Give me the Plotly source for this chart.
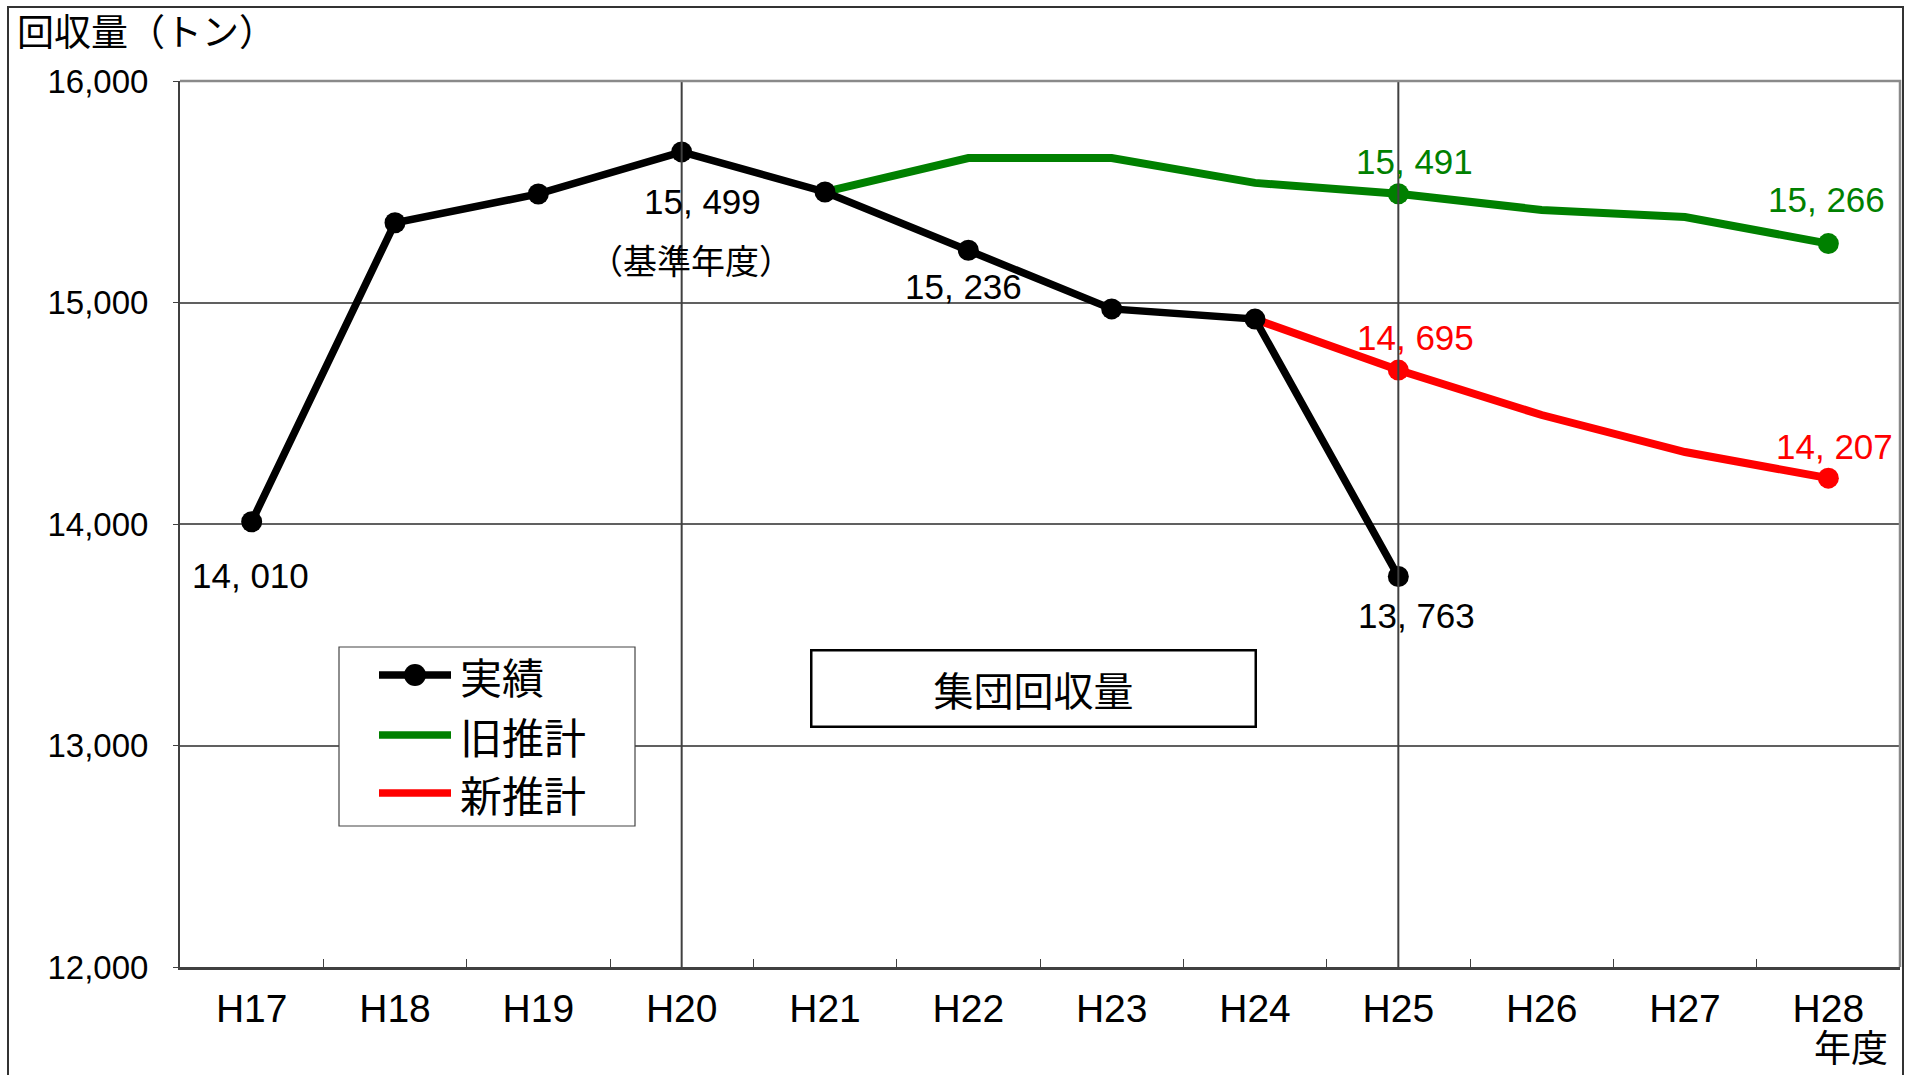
import plotly.graph_objects as go

# Fiscal years on the category axis
years = ["H17", "H18", "H19", "H20", "H21", "H22", "H23", "H24", "H25", "H26", "H27", "H28"]

# 実績 (actual collection, tons)
actual_years = years[:9]
actual = [14010, 15360, 15490, 15680, 15499, 15236, 14971, 14925, 13763]

# 旧推計 (previous projection)
old_years = years[4:]
old_est = [15499, 15652, 15652, 15540, 15491, 15418, 15386, 15266]

# 新推計 (revised projection)
new_years = years[7:]
new_est = [14925, 14695, 14492, 14325, 14207]

# Years that get a marker on the projection lines
marked_years = ["H25", "H28"]

y_ticks = [12000, 13000, 14000, 15000, 16000]

BLACK, GREEN, RED = "#000000", "#008000", "#ff0000"
W, H = 1914, 1075
L, R, T, B = 180, 14, 81, 108
PW, PH = W - L - R, H - T - B

LABEL_FONT = "Liberation Sans, Arial, sans-serif"
CJK_FONT = "Noto Sans CJK JP, sans-serif"
TICK_FONT = "Liberation Sans, Arial, sans-serif"


def px_x(px):
    return (px - L) / PW


def px_y(py):
    return (H - B - py) / PH


def fmt(v):
    return f"{v:,}".replace(",", ", ")


fig = go.Figure()

fig.add_trace(go.Scatter(
    x=old_years, y=old_est, mode="lines", name="旧推計",
    line=dict(color=GREEN, width=8),
))
fig.add_trace(go.Scatter(
    x=marked_years, y=[old_est[old_years.index(k)] for k in marked_years],
    mode="markers", marker=dict(color=GREEN, size=21), name="旧推計",
))
fig.add_trace(go.Scatter(
    x=new_years, y=new_est, mode="lines", name="新推計",
    line=dict(color=RED, width=8),
))
fig.add_trace(go.Scatter(
    x=marked_years, y=[new_est[new_years.index(k)] for k in marked_years],
    mode="markers", marker=dict(color=RED, size=21), name="新推計",
))
fig.add_trace(go.Scatter(
    x=actual_years, y=actual, mode="lines+markers", name="実績",
    line=dict(color=BLACK, width=7.5), marker=dict(color=BLACK, size=21),
))

# Value labels: (years, values, year, colour, xshift, yshift)
labels = [
    (actual_years, actual, "H17", BLACK, -1, -54),
    (actual_years, actual, "H22", BLACK, -5, -36),
    (actual_years, actual, "H25", BLACK, 18, -39),
    (old_years, old_est, "H25", GREEN, 16, 32),
    (old_years, old_est, "H28", GREEN, -2, 44),
    (new_years, new_est, "H25", RED, 17, 33),
    (new_years, new_est, "H28", RED, 6, 32),
]
for xs, vs, yr, col, dx, dy in labels:
    v = vs[xs.index(yr)]
    fig.add_annotation(
        x=yr, y=v, text=fmt(v), showarrow=False, xshift=dx, yshift=dy,
        font=dict(family=LABEL_FONT, size=35, color=col),
    )

# Base-year value, written beside the H20 gridline
base = actual[actual_years.index("H21")]
fig.add_annotation(
    x="H20", y=base, text=fmt(base), showarrow=False, xshift=21, yshift=-10,
    font=dict(family=LABEL_FONT, size=35, color=BLACK),
)
fig.add_annotation(
    x="H20", y=base, text="（基準年度）", showarrow=False, xshift=9, yshift=-68,
    font=dict(family=CJK_FONT, size=34, color=BLACK),
)

# Chart caption box
fig.add_annotation(
    xref="paper", yref="paper", x=px_x(1033), y=px_y(688),
    xanchor="center", yanchor="middle",
    text="集団回収量", showarrow=False, width=440, height=72,
    bordercolor="#000000", borderwidth=2.5, borderpad=1, bgcolor="white",
    font=dict(family=CJK_FONT, size=40, color="#000000"),
)

# Axis captions
fig.add_annotation(
    xref="paper", yref="paper", x=px_x(15), y=px_y(30),
    xanchor="left", yanchor="middle", text="回収量（トン）", showarrow=False,
    font=dict(family=CJK_FONT, size=37, color="#000000"),
)
fig.add_annotation(
    xref="paper", yref="paper", x=px_x(1890), y=px_y(1075),
    xanchor="right", yanchor="bottom", text="年度", showarrow=False,
    font=dict(family=CJK_FONT, size=37, color="#000000"),
)

# Reference lines through H20 and H25
for yr in ["H20", "H25"]:
    idx = years.index(yr)
    fig.add_shape(
        type="line", xref="x", yref="y domain", x0=idx, x1=idx, y0=0, y1=1,
        line=dict(color="#404040", width=2), layer="above",
    )

# Top and right frame of the plot area
fig.add_shape(
    type="path", xref="x domain", yref="y domain", path="M 0,1 L 1,1 L 1,0",
    line=dict(color="#8a8a8a", width=2.5), layer="above",
)

# Outer frame of the whole chart
fig.add_shape(
    type="rect", xref="paper", yref="paper",
    x0=px_x(8), x1=px_x(1903), y0=px_y(1090), y1=px_y(7),
    line=dict(color="#333333", width=2), fillcolor="rgba(0,0,0,0)", layer="above",
)

# Legend box with line samples
legend_items = [("実績", BLACK, True), ("旧推計", GREEN, False), ("新推計", RED, False)]
legend_rows = [675, 735, 793]
fig.add_shape(
    type="rect", xref="paper", yref="paper",
    x0=px_x(339), x1=px_x(635), y0=px_y(826), y1=px_y(647),
    line=dict(color="#444444", width=1.2), fillcolor="white", layer="above",
)
for (name, col, with_marker), row in zip(legend_items, legend_rows):
    fig.add_shape(
        type="line", xref="paper", yref="paper",
        x0=px_x(379), x1=px_x(451), y0=px_y(row), y1=px_y(row),
        line=dict(color=col, width=7.5), layer="above",
    )
    if with_marker:
        fig.add_shape(
            type="circle", xref="paper", yref="paper",
            xsizemode="pixel", ysizemode="pixel",
            xanchor=px_x(415), yanchor=px_y(row), x0=-11, x1=11, y0=-11, y1=11,
            line=dict(color=col, width=0), fillcolor=col, layer="above",
        )
    fig.add_annotation(
        xref="paper", yref="paper", x=px_x(458), y=px_y(row),
        xanchor="left", yanchor="middle", text=name, showarrow=False,
        font=dict(family=CJK_FONT, size=42, color="#000000"),
    )

fig.update_xaxes(
    type="category", categoryorder="array", categoryarray=years,
    range=[-0.5, len(years) - 0.5],
    showgrid=False, showline=True, linecolor="#404040", linewidth=2.5,
    ticks="inside", tickson="boundaries", ticklen=8, tickcolor="#404040", tickwidth=1,
    tickfont=dict(family=TICK_FONT, size=39, color="#000000"),
    ticklabelstandoff=5,
)
fig.update_yaxes(
    range=[12000, 16000], tickvals=y_ticks, tickformat=",",
    showgrid=True, gridcolor="#606060", gridwidth=1.5, zeroline=False,
    showline=True, linecolor="#404040", linewidth=2,
    ticks="outside", ticklen=5, tickcolor="#404040",
    tickfont=dict(family=TICK_FONT, size=33, color="#000000"),
    ticklabelstandoff=18,
)

fig.update_layout(
    width=W, height=H,
    margin=dict(l=L, r=R, t=T, b=B, pad=0),
    paper_bgcolor="white", plot_bgcolor="white",
    showlegend=False,
)

fig.write_html("out.html", config={"displayModeBar": False})
